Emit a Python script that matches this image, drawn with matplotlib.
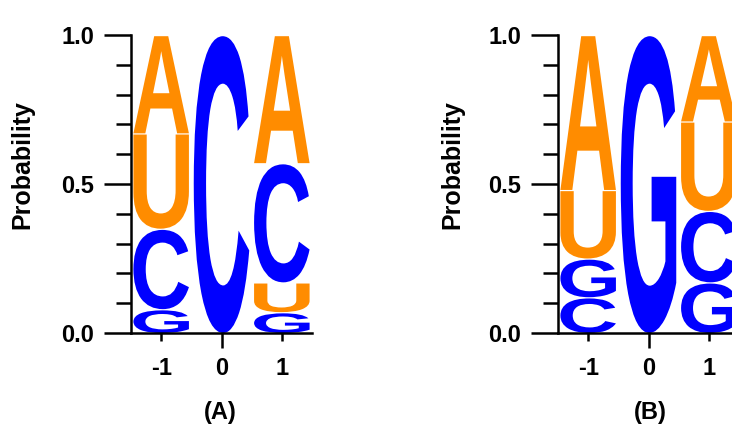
import numpy as np
import matplotlib.pyplot as plt
from matplotlib.textpath import TextPath
from matplotlib.patches import PathPatch
from matplotlib.font_manager import FontProperties
from matplotlib.transforms import Affine2D

plt.rcParams['font.family'] = 'Liberation Sans'
plt.rcParams['font.weight'] = 'bold'

# --------------------------
# Data (letters stacked bottom -> top at each position)
# --------------------------
positions = [-1, 0, 1]
pos_labels = ['-1', '0', '1']

letters_a = [['G', 'C', 'U', 'A'], ['C'], ['G', 'U', 'C', 'A']]
probs_a = [[0.08, 0.27, 0.32, 0.33], [1.0], [0.07, 0.10, 0.40, 0.43]]

letters_b = [['C', 'G', 'U', 'A'], ['G'], ['G', 'C', 'U', 'A']]
probs_b = [[0.12, 0.13, 0.23, 0.52], [1.0], [0.17, 0.24, 0.30, 0.29]]

panel_names = ['(A)', '(B)']

colors = {'A': '#FF8C00', 'U': '#FF8C00', 'C': '#0000FF', 'G': '#0000FF'}
glyph_font = FontProperties(family='Liberation Sans', weight='bold')

W, H = 732, 426


def draw_letter(ax, letter, x, y0, h, width=0.92, gap=0.004):
    # stretch a glyph to fill the box [x-width/2, x+width/2] x [y0, y0+h]
    path = TextPath((0, 0), letter, size=1, prop=glyph_font)
    ext = path.get_extents()
    tr = (Affine2D()
          .translate(-ext.x0, -ext.y0)
          .scale(width / ext.width, (h - gap) / ext.height)
          .translate(x - width / 2, y0))
    ax.add_patch(PathPatch(path, transform=tr + ax.transData,
                           facecolor=colors[letter], edgecolor='none'))


def logo_panel(ax, letters, probs):
    for pos, lets, ps in zip(positions, letters, probs):
        bottom = 0.0
        for let, p in zip(lets, ps):
            draw_letter(ax, let, pos, bottom, p)
            bottom += p

    ax.set_xlim(-1.5, 1.5)
    ax.set_ylim(0, 1)
    for s in ['top', 'right']:
        ax.spines[s].set_visible(False)
    for s in ['left', 'bottom']:
        ax.spines[s].set_linewidth(1.8)

    ax.set_yticks([0, 0.5, 1.0])
    ax.set_yticklabels(['0.0', '0.5', '1.0'])
    ax.set_yticks(np.arange(0.1, 1.0, 0.1), minor=True)
    ax.tick_params(axis='y', which='major', direction='out', length=19.5,
                   width=1.8, pad=7, labelsize=17)
    ax.tick_params(axis='y', which='minor', direction='out', length=11, width=1.8)

    ax.set_xticks(positions)
    ax.set_xticklabels(pos_labels)
    ax.tick_params(axis='x', which='major', direction='out', length=6,
                   width=1.8, pad=11, labelsize=17)
    # tick at 0 is drawn longer
    ax.xaxis.get_major_ticks()[1].tick1line.set_markersize(11)


fig = plt.figure(figsize=(W / 100, H / 100), dpi=100)

ax_left_px = [131, 558]
name_x_px = [220, 650]
ylab_x_px = [22, 452]
datasets = [(letters_a, probs_a), (letters_b, probs_b)]

for i, (lets, ps) in enumerate(datasets):
    ax = fig.add_axes([ax_left_px[i] / W, (H - 333) / H, 181 / W, 298 / H])
    logo_panel(ax, lets, ps)
    fig.text(ylab_x_px[i] / W, 1 - 165 / H, 'Probability', rotation=90,
             ha='center', va='center', fontsize=18, fontweight='bold')
    fig.text(name_x_px[i] / W, 1 - 413 / H, panel_names[i],
             ha='center', va='center', fontsize=17, fontweight='bold')

plt.savefig('out.png', dpi=100)
